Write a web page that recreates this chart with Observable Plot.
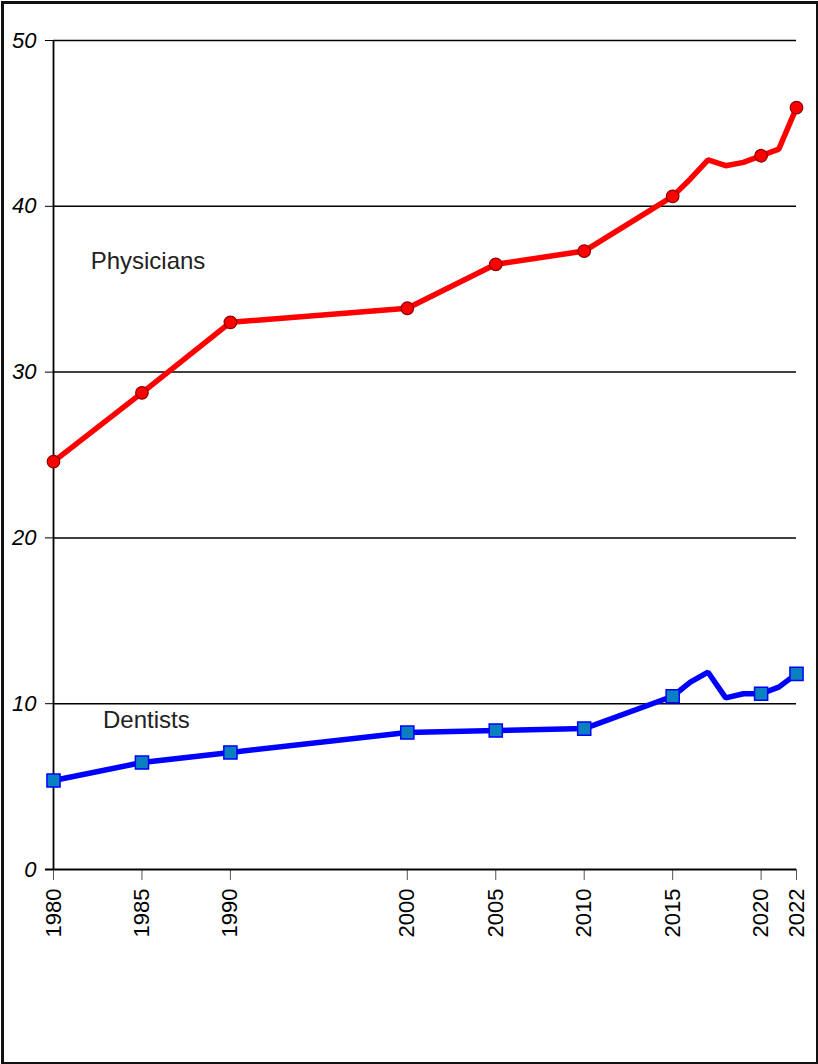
<!DOCTYPE html>
<html>
<head>
<meta charset="utf-8">
<script src="https://cdn.jsdelivr.net/npm/d3@7"></script>
<script src="https://cdn.jsdelivr.net/npm/@observablehq/plot@0.6"></script>
<style>
  html, body { margin: 0; padding: 0; background: #fff; }
  #chart { position: relative; width: 818px; height: 1064px; }
  #chart svg { display: block; }
  #chart svg g[aria-label="y-axis tick label"], #chart svg g[aria-label="y-axis tick label"] text { font-size: 22px !important; font-style: italic; }
  #chart svg g[aria-label="x-axis tick label"], #chart svg g[aria-label="x-axis tick label"] text { font-size: 22px !important; }
  #frame { position: absolute; left: 1px; top: 1px; width: 812px; height: 1058px; border: 3px solid #111; box-shadow: 1px 1px 0 #777; pointer-events: none; }
</style>
</head>
<body>
<div id="chart"><div id="frame"></div></div>
<script>
const years = [1980, 1985, 1990, 2000, 2005, 2010, 2015, 2016, 2017, 2018, 2019, 2020, 2021, 2022];
const physicians = [24.6, 28.75, 33.0, 33.85, 36.5, 37.3, 40.6, 41.65, 42.8, 42.45, 42.65, 43.05, 43.45, 45.95];
const dentists = [5.37, 6.45, 7.06, 8.26, 8.38, 8.5, 10.45, 11.3, 11.9, 10.35, 10.6, 10.6, 11.0, 11.8];
const markerYears = [1980, 1985, 1990, 2000, 2005, 2010, 2015, 2020, 2022];
const xTicks = [1980, 1985, 1990, 2000, 2005, 2010, 2015, 2020, 2022];
const yTicks = [0, 10, 20, 30, 40, 50];
const seriesLabels = [
  {name: "Physicians", year: 1982.1, value: 36.7},
  {name: "Dentists", year: 1982.8, value: 9.0}
];

const phys = years.map((y, i) => ({year: y, value: physicians[i]}));
const dent = years.map((y, i) => ({year: y, value: dentists[i]}));
const physM = phys.filter(d => markerYears.includes(d.year));
const dentM = dent.filter(d => markerYears.includes(d.year));

const chart = Plot.plot({
  width: 818,
  height: 1064,
  marginLeft: 53,
  marginRight: 22,
  marginTop: 40,
  marginBottom: 195,
  style: {fontFamily: "Liberation Sans, Arial, sans-serif", fontSize: "17px", background: "transparent", overflow: "visible"},
  x: {domain: [1980, 2022], type: "linear"},
  y: {domain: [0, 50]},
  marks: [
    Plot.ruleY(yTicks.filter(d => d > 0), {stroke: "#000", strokeWidth: 1.5}),
    Plot.axisY({ticks: yTicks, tickSize: 8, tickPadding: 9, tickFormat: d => d, label: null, stroke: "#000", strokeOpacity: 1, fill: "#000"}),
    Plot.axisX({ticks: xTicks, tickSize: 11, tickPadding: 8, tickRotate: -90, tickFormat: d => String(d), label: null, stroke: "#555", strokeOpacity: 1, fill: "#000"}),
    Plot.ruleX([1980], {y1: 0, y2: 50, stroke: "#000", strokeWidth: 1.8}),
    Plot.ruleY([0], {x1: 1980 - 8/17.69, x2: 2022, stroke: "#000", strokeWidth: 2}),
    Plot.line(phys, {x: "year", y: "value", stroke: "#ff0000", strokeWidth: 5.5, strokeLinejoin: "miter"}),
    Plot.line(dent, {x: "year", y: "value", stroke: "#0000ff", strokeWidth: 5.5, strokeLinejoin: "miter"}),
    Plot.dot(physM, {x: "year", y: "value", r: 6.3, fill: "#ff0000", stroke: "#8b0000", strokeWidth: 1.2}),
    Plot.dot(dentM, {x: "year", y: "value", symbol: "square", r: 7.4, fill: "#0a80c0", stroke: "#0000ff", strokeWidth: 1.5}),
    Plot.text(seriesLabels, {x: "year", y: "value", text: "name", textAnchor: "start", fontSize: 24, fill: "#222"})
  ]
});
document.getElementById("chart").prepend(chart);
</script>
</body>
</html>
